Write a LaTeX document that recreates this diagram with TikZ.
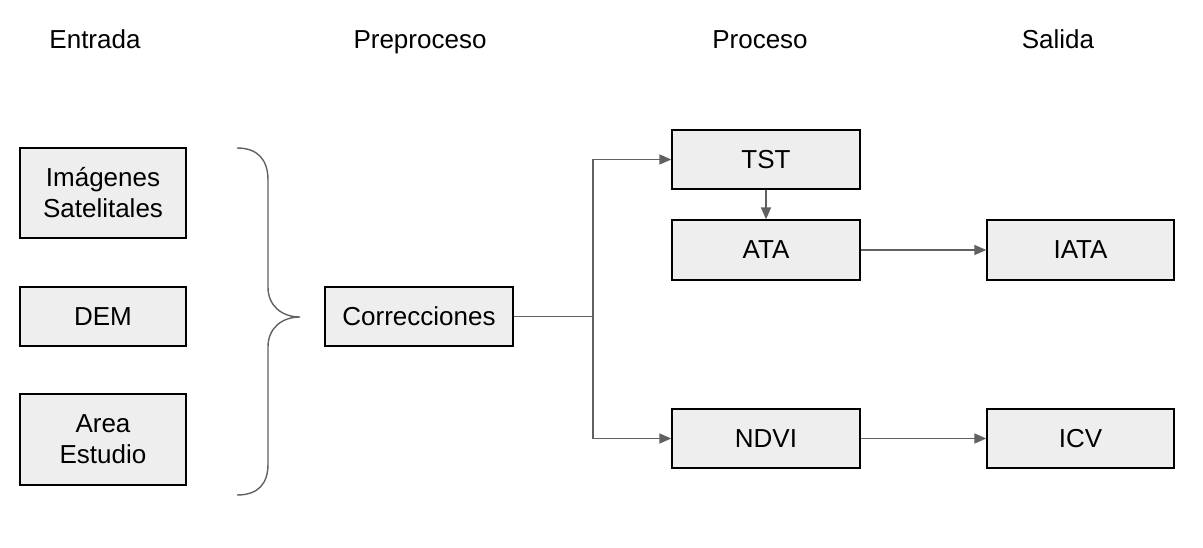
\documentclass[tikz,border=0pt]{standalone}
\usepackage{fontspec}
\setmainfont{Liberation Sans}
\usetikzlibrary{arrows.meta,positioning}
\definecolor{boxfill}{HTML}{EEEEEE}
\definecolor{linegray}{HTML}{616161}
\begin{document}
\begin{tikzpicture}[x=1pt,y=-1pt,
  every node/.style={font=\fontsize{26}{31}\selectfont},
  stepbox/.style={draw=black,fill=boxfill,line width=1.3pt,inner sep=0pt,align=center},
  hdr/.style={inner sep=0pt,anchor=base},
  conn/.style={draw=linegray,line width=1.4pt},
  arr/.style={conn,-{Triangle[length=12pt,width=10pt]}}]
\useasboundingbox (0,0) rectangle (1203,548);
% headers
\node[hdr] (hEntrada) at (95,49) {Entrada};
\node[hdr] (hPre) at (420,49) {Preproceso};
\node[hdr] (hPro) at (760,49) {Proceso};
\node[hdr] (hSal) at (1058,49) {Salida};
% boxes
\node[stepbox,minimum width=166pt,minimum height=90pt] (img) at (103,193) {Imágenes\\Satelitales};
\node[stepbox,minimum width=166pt,minimum height=59pt] (dem) at (103,316.5) {DEM};
\node[stepbox,minimum width=166pt,minimum height=91pt] (area) at (103,439.5) {Area\\Estudio};
\node[stepbox,minimum width=188pt,minimum height=59pt] (corr) at (419,316.5) {Correcciones};
\node[stepbox,minimum width=188pt,minimum height=59pt] (tst) at (766,159.5) {TST};
\node[stepbox,minimum width=188pt,minimum height=60pt] (ata) at (766,250) {ATA};
\node[stepbox,minimum width=188pt,minimum height=59pt] (ndvi) at (766,438.5) {NDVI};
\node[stepbox,minimum width=187pt,minimum height=60pt] (iata) at (1080.5,250) {IATA};
\node[stepbox,minimum width=187pt,minimum height=59pt] (icv) at (1080.5,438.5) {ICV};
% brace
\draw[conn] (237,148) .. controls (258,148) and (268,160) .. (268,180)
  -- (268,287) .. controls (268,306) and (282,317) .. (300,317)
  .. controls (282,317) and (268,328) .. (268,347)
  -- (268,464) .. controls (268,484) and (258,495) .. (237,495);
% connectors
\coordinate (junc) at (593,316.5);
\draw[conn] (corr.east) -- (junc);
\draw[arr] (junc) |- (tst.west);
\draw[arr] (junc) |- (ndvi.west);
\draw[arr] (tst.south) -- (ata.north);
\draw[arr] (ata.east) -- (iata.west);
\draw[arr] (ndvi.east) -- (icv.west);
\end{tikzpicture}
\end{document}
